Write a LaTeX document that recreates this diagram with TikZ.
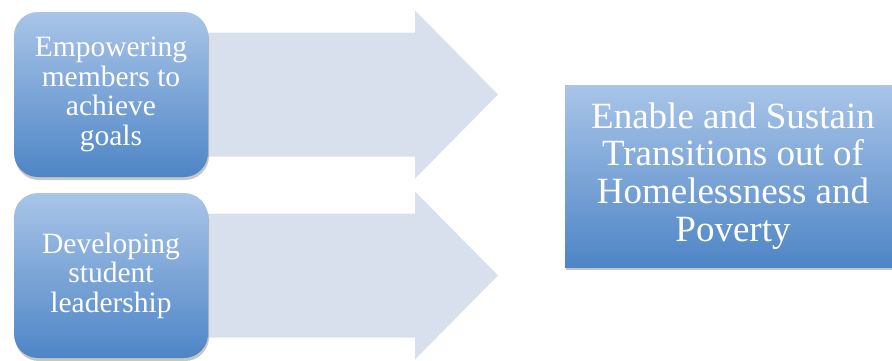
\documentclass[tikz,border=0pt]{standalone}
\usepackage{fontspec}
\setmainfont{Liberation Serif}
\usetikzlibrary{shadows}
\definecolor{boxtop}{HTML}{A9C5E8}
\definecolor{boxbot}{HTML}{4E85C6}
\definecolor{arrowfill}{HTML}{D8E0EE}
\begin{document}
\begin{tikzpicture}[x=1pt,y=-1pt,
    bluebox/.style={inner sep=0pt,top color=boxtop,bottom color=boxbot,text=white,align=center,
        drop shadow={shadow xshift=1pt,shadow yshift=-3pt,opacity=0.45}},
    goalbox/.style={bluebox,rounded corners=24pt,minimum width=194pt,minimum height=165pt,
        font=\fontsize{29.5}{29.5}\selectfont},
    aimbox/.style={bluebox,minimum width=336pt,minimum height=182pt,
        font=\fontsize{37}{37.8}\selectfont}]
    \useasboundingbox (0,0) rectangle (892,360);
    % big arrows behind the boxes
    \foreach \y in {94.5,275.5}
        {\fill[arrowfill] (150,\y-62) -- (415,\y-62) -- (415,\y-84) -- (498,\y)
            -- (415,\y+84) -- (415,\y+62) -- (150,\y+62) -- cycle;
        }
    \node[goalbox] (empower) at (111,94.5) {Empowering\\members to\\achieve\\goals};
    \node[goalbox] (develop) at (111,275.5) {Developing\\student\\leadership};
    \node[aimbox] (enable) at (733,176) {Enable and Sustain\\Transitions out of\\Homelessness and\\Poverty};
\end{tikzpicture}
\end{document}
